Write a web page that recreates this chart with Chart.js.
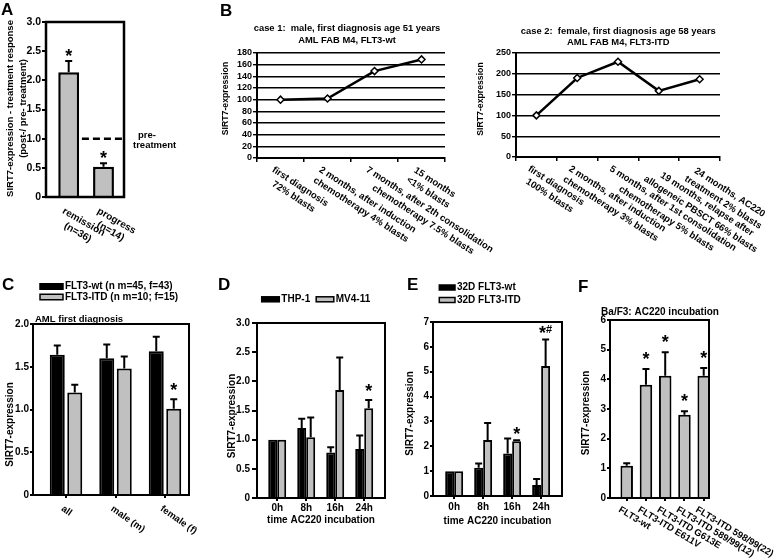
<!DOCTYPE html>
<html><head><meta charset="utf-8">
<script src="https://cdn.jsdelivr.net/npm/chart.js@4.4.1/dist/chart.umd.min.js"></script>
<style>
html,body{margin:0;padding:0;background:#fff;}
#fig{position:relative;width:778px;height:560px;background:#fff;overflow:hidden;}
#fig canvas{position:absolute;}
.lt{position:absolute;font:bold 17px/17px 'Liberation Sans',Arial,sans-serif;color:#000;}
</style></head>
<body><div id="fig">
<canvas id="cA" width="185" height="255" style="left:0px;top:0px"></canvas>
<canvas id="cB1" width="295" height="245" style="left:205px;top:15px"></canvas>
<canvas id="cB2" width="308" height="245" style="left:470px;top:15px"></canvas>
<canvas id="cC" width="215" height="290" style="left:0px;top:270px"></canvas>
<canvas id="cD" width="180" height="270" style="left:220px;top:270px"></canvas>
<canvas id="cE" width="172" height="270" style="left:400px;top:270px"></canvas>
<canvas id="cF" width="203" height="290" style="left:575px;top:270px"></canvas>
<div class="lt" style="left:1px;top:1px">A</div>
<div class="lt" style="left:220px;top:2px">B</div>
<div class="lt" style="left:2px;top:276px">C</div>
<div class="lt" style="left:218px;top:276px">D</div>
<div class="lt" style="left:407px;top:276px">E</div>
<div class="lt" style="left:578px;top:278px">F</div>
</div>
<script>
// ---------------- DATA ----------------
// Panel A
const aCategories = [['remission', '(n=36)'], ['progress', '(n=14)']];
const aValues = [2.14, 0.52];
const aErrors = [0.19, 0.06];
const aMarks = ['*', '*'];
const aPreTreatment = 1.0;
const aYTicks = [0, 0.5, 1, 1.5, 2, 2.5, 3];

// Panel B, case 1
const b1Categories = [['first diagnosis', '72% blasts'], ['2 months, after induction', 'chemotherapy 4% blasts'], ['7 months, after 2th consolidation', 'chemotherapy 7.5% blasts'], ['15 months', '<1% blasts']];
const b1Values = [100, 102, 149, 169];
const b1YTicks = [0, 20, 40, 60, 80, 100, 120, 140, 160, 180];

// Panel B, case 2
const b2Categories = [['first diagnosis', '100% blasts'], ['2 months, after induction', 'chemotherapy 3% blasts'], ['5 months, after 1st consolidation', 'chemotherapy 5% blasts'], ['19 months, relapse after', 'allogeneic PBSCT 66% blasts'], ['24 months, AC220', 'treatment 2% blasts']];
const b2Values = [100, 190, 229, 159, 187];
const b2YTicks = [0, 50, 100, 150, 200, 250];

// Panel C
const cCategories = ['all', 'male (m)', 'female (f)'];
const cSeries = ['FLT3-wt (n m=45, f=43)', 'FLT3-ITD (n m=10; f=15)'];
const cWt = [1.64, 1.60, 1.68];
const cWtErr = [0.11, 0.16, 0.17];
const cItd = [1.20, 1.48, 1.01];
const cItdErr = [0.09, 0.14, 0.11];
const cItdMarks = ['', '', '*'];
const cYTicks = [0, 0.5, 1, 1.5, 2];

// Panel D
const dCategories = ['0h', '8h', '16h', '24h'];
const dSeries = ['THP-1', 'MV4-11'];
const dThp = [1, 1.2, 0.78, 0.84];
const dThpErr = [0, 0.16, 0.09, 0.23];
const dMv = [1, 1.04, 1.85, 1.54];
const dMvErr = [0, 0.34, 0.56, 0.14];
const dMvMarks = ['', '', '', '*'];
const dYTicks = [0, 0.5, 1, 1.5, 2, 2.5, 3];

// Panel E
const eCategories = ['0h', '8h', '16h', '24h'];
const eSeries = ['32D FLT3-wt', '32D FLT3-ITD'];
const eWt = [1, 1.14, 1.71, 0.44];
const eWtErr = [0, 0.17, 0.6, 0.24];
const eItd = [1, 2.25, 2.2, 5.23];
const eItdErr = [0, 0.69, 0.04, 1.07];
const eItdMarks = ['', '', '*', '*#'];
const eYTicks = [0, 1, 2, 3, 4, 5, 6, 7];

// Panel F
const fCategories = ['FLT3-wt', 'FLT3-ITD E611V', 'FLT3-ITD G613E', 'FLT3-ITD 589/99(12)', 'FLT3-ITD 598/99(22)'];
const fValues = [1.09, 3.82, 4.12, 2.81, 4.12];
const fErrors = [0.08, 0.53, 0.79, 0.11, 0.26];
const fMarks = ['', '*', '*', '*', '*'];
const fYTicks = [0, 1, 2, 3, 4, 5, 6];

// ---------------- SETUP ----------------
const FONT = "'Liberation Sans', Arial, sans-serif";
const GRAY = '#c0c0c0';
const BLACK = '#000000';
Chart.defaults.font.family = FONT;
Chart.defaults.font.weight = 'bold';
Chart.defaults.color = '#000';
Chart.defaults.animation = false;
Chart.defaults.responsive = false;
Chart.defaults.maintainAspectRatio = false;
Chart.defaults.plugins.legend.display = false;
Chart.defaults.plugins.tooltip.enabled = false;

const extras = {};

function drawMark(ctx, m, x, bottom) {
  const parts = [...m].map(ch => ({ ch, size: ch === '*' ? 18 : 11 }));
  let total = 0;
  parts.forEach(p => { ctx.font = `bold ${p.size}px ${FONT}`; p.w = ctx.measureText(p.ch).width; total += p.w; });
  let cx = x - total / 2;
  ctx.textAlign = 'left'; ctx.textBaseline = 'alphabetic'; ctx.fillStyle = '#000';
  parts.forEach(p => {
    ctx.font = `bold ${p.size}px ${FONT}`;
    const base = p.ch === '*' ? bottom + 7 : bottom + 1;
    ctx.fillText(p.ch, cx, base);
    cx += p.w;
  });
}

const decor = {
  id: 'decor',
  afterDatasetsDraw(chart) {
    const ex = extras[chart.canvas.id] || {};
    const ctx = chart.ctx, ys = chart.scales.y;
    ctx.save();
    chart.data.datasets.forEach((ds, di) => {
      if (!ds.errors && !ds.marks) return;
      const meta = chart.getDatasetMeta(di);
      meta.data.forEach((el, i) => {
        const raw = ds.data[i];
        const v = typeof raw === 'object' ? raw.y : raw;
        const e = ds.errors ? ds.errors[i] : 0;
        let top = el.y;
        if (e) {
          top = ys.getPixelForValue(v + e);
          ctx.strokeStyle = '#000'; ctx.lineWidth = 2; ctx.setLineDash([]);
          ctx.beginPath();
          ctx.moveTo(el.x, el.y); ctx.lineTo(el.x, top);
          ctx.moveTo(el.x - 3.5, top); ctx.lineTo(el.x + 3.5, top);
          ctx.stroke();
        }
        const m = ds.marks ? ds.marks[i] : '';
        if (m) drawMark(ctx, m, el.x, top - (ex.starGap || 10));
      });
    });
    ctx.restore();
  },
  afterDraw(chart) {
    const ex = extras[chart.canvas.id];
    if (!ex) return;
    const ctx = chart.ctx, ca = chart.chartArea;
    ctx.save();
    if (ex.frame) {
      ctx.strokeStyle = '#000'; ctx.lineWidth = ex.frame;
      ctx.strokeRect(ca.left, ca.top, ca.right - ca.left, ca.bottom - ca.top);
    }
    if (ex.refLine) {
      const xs = chart.scales.x, ys = chart.scales.y;
      const y = ys.getPixelForValue(ex.refLine.y);
      ctx.strokeStyle = '#000'; ctx.lineWidth = 2.5; ctx.setLineDash([7, 4]);
      ctx.beginPath(); ctx.moveTo(xs.getPixelForValue(ex.refLine.xFrom), y); ctx.lineTo(ca.right, y); ctx.stroke();
      ctx.setLineDash([]);
    }
    if (ex.xlabels) {
      const L = ex.xlabels, xs = chart.scales.x;
      ctx.font = `bold ${L.size}px ${FONT}`; ctx.fillStyle = '#000';
      chart.data.labels.forEach((lab, i) => {
        const arr = Array.isArray(lab) ? lab : [lab];
        const px = xs.getPixelForValue(xs.type === 'category' ? i : i + 1);
        const W = Math.max(...arr.map(t => ctx.measureText(t).width));
        ctx.save();
        ctx.translate(px + L.dx, ca.bottom + L.dy);
        ctx.rotate(L.angle * Math.PI / 180);
        ctx.textAlign = 'center'; ctx.textBaseline = 'top';
        arr.forEach((t, k) => ctx.fillText(t, W / 2, k * L.lh));
        ctx.restore();
      });
    }
    if (ex.ytitle) {
      const T = ex.ytitle;
      ctx.save();
      ctx.translate(T.x, (ca.top + ca.bottom) / 2 + (T.dy || 0));
      ctx.rotate(-Math.PI / 2);
      ctx.font = `bold ${T.size}px ${FONT}`; ctx.fillStyle = '#000';
      ctx.textAlign = 'center'; ctx.textBaseline = 'middle';
      T.lines.forEach((l, k) => ctx.fillText(l, 0, k * T.lh));
      ctx.restore();
    }
    if (ex.legend) {
      const L = ex.legend;
      ctx.font = `bold ${L.size}px ${FONT}`; ctx.textBaseline = 'middle'; ctx.textAlign = 'left';
      let x = L.x, y = L.y;
      chart.data.datasets.forEach(ds => {
        ctx.fillStyle = ds.backgroundColor; ctx.fillRect(x, y - L.h / 2, L.w, L.h);
        ctx.strokeStyle = '#000'; ctx.lineWidth = 1.5; ctx.strokeRect(x, y - L.h / 2, L.w, L.h);
        ctx.fillStyle = '#000'; ctx.fillText(ds.label, x + L.w + L.gap, y);
        if (L.dir === 'h') x += L.w + L.gap + ctx.measureText(ds.label).width + L.spacing;
        else y += L.spacing;
      });
    }
    (ex.texts || []).forEach(t => {
      ctx.font = `bold ${t.size}px ${FONT}`; ctx.fillStyle = '#000';
      ctx.textAlign = t.align || 'left'; ctx.textBaseline = 'middle';
      ctx.fillText(t.t, t.x, t.y);
    });
    ctx.restore();
  }
};
Chart.register(decor);

function fmt1(v) { return v === 0 ? '0' : v.toFixed(1); }
function fmt0(v) { return String(v); }

function yAxis(ticks, fmt, width, tl, pad, size, onArea) {
  return {
    type: 'linear', bounds: 'data', min: ticks[0], max: ticks[ticks.length - 1],
    afterBuildTicks: s => { s.ticks = ticks.map(v => ({ value: v })); },
    afterFit: s => { s.width = width; },
    ticks: { callback: fmt, padding: pad, font: { size, weight: 'bold' }, color: '#000', autoSkip: false },
    grid: { drawOnChartArea: !!onArea, tickLength: tl, color: '#000', lineWidth: onArea ? 1.4 : 2 },
    border: { color: '#000', width: 2 }
  };
}

function xLinear(cats, min, max, height, tl, showLabels, size, pad, title) {
  return {
    type: 'linear', bounds: 'data', min, max, offset: false,
    afterBuildTicks: s => { s.ticks = cats.map((c, i) => ({ value: i + 1 })); },
    afterFit: s => { s.height = height; },
    ticks: showLabels
      ? { display: true, autoSkip: false, maxRotation: 0, minRotation: 0, padding: pad, font: { size, weight: 'bold' }, color: '#000', callback: v => cats[v - 1] }
      : { display: false },
    grid: { offset: false, drawOnChartArea: false, drawTicks: tl > 0, tickLength: tl, color: '#000', lineWidth: 2 },
    border: { color: '#000', width: 2 },
    title: title || { display: false }
  };
}

function pts(vals) { return vals.map((v, i) => ({ x: i + 1, y: v })); }

// ---------------- PANEL A ----------------
extras.cA = {
  frame: 2.5, starGap: 6,
  refLine: { y: aPreTreatment, xFrom: 1.38 },
  xlabels: { angle: 30, dx: -3, dy: 9, size: 10, lh: 12 },
  ytitle: { lines: ['SIRT7-expression - treatment response', '(post-/ pre- treatment)'], x: 10, dy: -1, size: 9.5, lh: 13 },
  texts: [{ t: 'pre-', x: 138, y: 135, size: 9.5 }, { t: 'treatment', x: 133, y: 145, size: 9.5 }]
};
new Chart(document.getElementById('cA'), {
  type: 'bar',
  data: { labels: aCategories, datasets: [{ data: pts(aValues), errors: aErrors, marks: aMarks, backgroundColor: GRAY, borderColor: BLACK, borderWidth: 2.5, borderSkipped: 'start', barPercentage: 0.6, categoryPercentage: 1 }] },
  options: {
    layout: { padding: { top: 22, right: 61, left: 0, bottom: 0 } },
    scales: { x: xLinear(aCategories, 0.348, 2.589, 58, 0), y: yAxis(aYTicks, fmt1, 46, 4, 1, 10.5) }
  }
});

// ---------------- PANEL B ----------------
function lineChart(id, cats, vals, yTicks, yw, padT, padR, xh) {
  return new Chart(document.getElementById(id), {
    type: 'line',
    data: { labels: cats, datasets: [{ data: vals, borderColor: BLACK, borderWidth: 2.5, tension: 0, pointStyle: 'rectRot', pointRadius: 3.5, pointBorderWidth: 1.5, pointBackgroundColor: '#fff', pointBorderColor: BLACK, fill: false }] },
    options: {
      layout: { padding: { top: padT, right: padR, left: 0, bottom: 0 } },
      scales: {
        x: { type: 'category', offset: true, afterFit: s => { s.height = xh; }, ticks: { display: false }, grid: { offset: true, drawOnChartArea: false, tickLength: 4, color: '#000', lineWidth: 1.5 }, border: { color: '#000', width: 2 } },
        y: yAxis(yTicks, fmt0, yw, 4, 1, 9, true)
      }
    }
  });
}
extras.cB1 = {
  xlabels: { angle: 33, dx: -5, dy: 7, size: 9.5, lh: 12 },
  ytitle: { lines: ['SIRT7-expression'], x: 20.7, dy: -7, size: 8.7, lh: 11 },
  texts: [{ t: 'case 1:  male, first diagnosis age 51 years', x: 142, y: 13, size: 9.4, align: 'center' }, { t: 'AML FAB M4, FLT3-wt', x: 142, y: 25.7, size: 9.4, align: 'center' }]
};
lineChart('cB1', b1Categories, b1Values, b1YTicks, 52, 38, 55, 102);
extras.cB2 = {
  xlabels: { angle: 33, dx: -5, dy: 7, size: 9.5, lh: 12 },
  ytitle: { lines: ['SIRT7-expression'], x: 11, dy: -6, size: 8.7, lh: 11 },
  texts: [{ t: 'case 2:  female, first diagnosis age 58 years', x: 148.3, y: 16.7, size: 9.4, align: 'center' }, { t: 'AML FAB M4, FLT3-ITD', x: 148.3, y: 27.7, size: 9.4, align: 'center' }]
};
lineChart('cB2', b2Categories, b2Values, b2YTicks, 46, 38, 58, 103);

// ---------------- PANEL C ----------------
extras.cC = {
  frame: 2, starGap: 10,
  xlabels: { angle: 35, dx: -1, dy: 9, size: 9.5, lh: 12 },
  ytitle: { lines: ['SIRT7-expression'], x: 10, dy: 15, size: 10, lh: 12 },
  legend: { x: 40, y: 16.5, w: 23, h: 5.5, gap: 2, spacing: 10.5, size: 10, dir: 'v' },
  texts: [{ t: 'AML first diagnosis', x: 35, y: 49.3, size: 9.5 }]
};
new Chart(document.getElementById('cC'), {
  type: 'bar',
  data: { labels: cCategories, datasets: [
    { label: cSeries[0], data: pts(cWt), errors: cWtErr, backgroundColor: BLACK, borderColor: BLACK, borderWidth: 2, borderSkipped: 'start', barPercentage: 0.857, categoryPercentage: 0.707 },
    { label: cSeries[1], data: pts(cItd), errors: cItdErr, marks: cItdMarks, backgroundColor: GRAY, borderColor: BLACK, borderWidth: 2, borderSkipped: 'start', barPercentage: 0.857, categoryPercentage: 0.707 }
  ] },
  options: {
    layout: { padding: { top: 54, right: 26, left: 0, bottom: 0 } },
    scales: { x: xLinear(cCategories, 0.333, 3.485, 65, 3), y: yAxis(cYTicks, fmt1, 33, 3, 1, 10) }
  }
});

// ---------------- PANEL D ----------------
extras.cD = {
  frame: 2, starGap: 10,
  ytitle: { lines: ['SIRT7-expression'], x: 12.5, dy: 5.5, size: 10, lh: 12 },
  legend: { x: 41.7, y: 29.3, w: 17.6, h: 5, gap: 2, spacing: 6, size: 10, dir: 'h' }
};
new Chart(document.getElementById('cD'), {
  type: 'bar',
  data: { labels: dCategories, datasets: [
    { label: dSeries[0], data: pts(dThp), errors: dThpErr, backgroundColor: BLACK, borderColor: BLACK, borderWidth: 2, borderSkipped: 'start', barPercentage: 1, categoryPercentage: 0.62 },
    { label: dSeries[1], data: pts(dMv), errors: dMvErr, marks: dMvMarks, backgroundColor: GRAY, borderColor: BLACK, borderWidth: 2, borderSkipped: 'start', barPercentage: 1, categoryPercentage: 0.62 }
  ] },
  options: {
    layout: { padding: { top: 53, right: 15, left: 0, bottom: 0 } },
    scales: {
      x: xLinear(dCategories, 0.303, 4.717, 42, 3, true, 10, 1, { display: true, text: 'time AC220 incubation', font: { size: 10, weight: 'bold' }, color: '#000', padding: { top: 0, bottom: 13.3 } }),
      y: yAxis(dYTicks, fmt1, 37, 5, 2, 10)
    }
  }
});

// ---------------- PANEL E ----------------
extras.cE = {
  frame: 2, starGap: 7,
  ytitle: { lines: ['SIRT7-expression'], x: 10.7, dy: 4.5, size: 10, lh: 12 },
  legend: { x: 39.3, y: 17.5, w: 15.7, h: 5, gap: 2, spacing: 12.5, size: 10, dir: 'v' }
};
new Chart(document.getElementById('cE'), {
  type: 'bar',
  data: { labels: eCategories, datasets: [
    { label: eSeries[0], data: pts(eWt), errors: eWtErr, backgroundColor: BLACK, borderColor: BLACK, borderWidth: 2, borderSkipped: 'start', barPercentage: 1, categoryPercentage: 0.62 },
    { label: eSeries[1], data: pts(eItd), errors: eItdErr, marks: eItdMarks, backgroundColor: GRAY, borderColor: BLACK, borderWidth: 2, borderSkipped: 'start', barPercentage: 1, categoryPercentage: 0.62 }
  ] },
  options: {
    layout: { padding: { top: 52, right: 10, left: 0, bottom: 0 } },
    scales: {
      x: xLinear(eCategories, 0.27, 4.72, 44, 3, true, 10, 2, { display: true, text: 'time AC220 incubation', font: { size: 10, weight: 'bold' }, color: '#000', padding: { top: 0, bottom: 12.3 } }),
      y: yAxis(eYTicks, fmt0, 33, 3, 1, 10)
    }
  }
});

// ---------------- PANEL F ----------------
extras.cF = {
  frame: 2, starGap: 11,
  xlabels: { angle: 31, dx: -5, dy: 7, size: 9.5, lh: 12 },
  ytitle: { lines: ['SIRT7-expression'], x: 11.7, dy: 4, size: 10, lh: 12 },
  texts: [{ t: 'Ba/F3: AC220 incubation', x: 85, y: 42.5, size: 10, align: 'center' }]
};
new Chart(document.getElementById('cF'), {
  type: 'bar',
  data: { labels: fCategories, datasets: [{ data: pts(fValues), errors: fErrors, marks: fMarks, backgroundColor: GRAY, borderColor: BLACK, borderWidth: 2, borderSkipped: 'start', barPercentage: 0.65, categoryPercentage: 1 }] },
  options: {
    layout: { padding: { top: 50, right: 69, left: 0, bottom: 0 } },
    scales: { x: xLinear(fCategories, 0.132, 5.275, 62, 3), y: yAxis(fYTicks, fmt0, 35, 3, 1, 10) }
  }
});
</script>
</body></html>
